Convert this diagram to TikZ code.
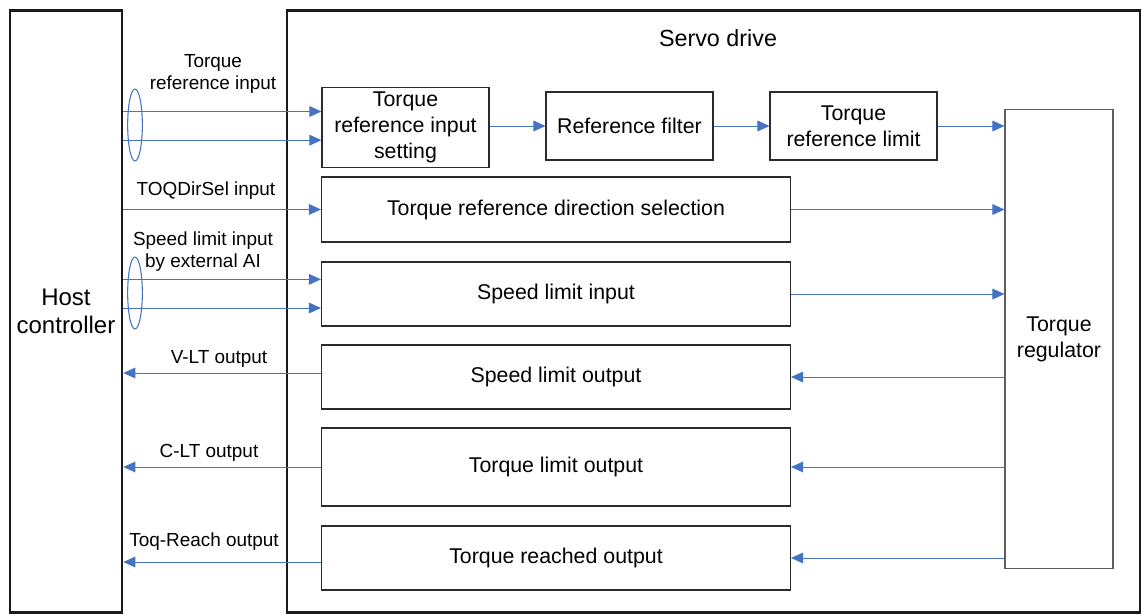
\documentclass[tikz,border=0pt]{standalone}
\usepackage{fontspec}
\setmainfont{Liberation Sans}
\usetikzlibrary{arrows.meta,positioning,calc,shapes.geometric}
\definecolor{Blue}{HTML}{4472C4}
\definecolor{Ink}{HTML}{1A1A1A}
\definecolor{Edge}{HTML}{2B2B2B}
\definecolor{Gray}{HTML}{5E5E5E}
\tikzset{
  unit/.style={draw=Ink,line width=2pt,inner sep=0pt,minimum height=451.5pt,align=center},
  blk/.style={draw=Edge,line width=.8pt,inner sep=0pt,align=center,font=\fontsize{16}{19.5}\selectfont},
  lbl/.style={align=center,inner sep=0pt,font=\fontsize{14.2}{16.5}\selectfont},
  grp/.style={draw=Blue,ellipse,line width=.8pt,inner sep=0pt,minimum width=11pt,minimum height=54pt},
  sig/.style={-{Triangle[length=9pt,width=8pt]},draw=Blue,fill=Blue,line width=.75pt},
}

\begin{document}
\begin{tikzpicture}[x=0.75pt,y=-0.75pt]
    \useasboundingbox (0,0) rectangle (1142,614);

    % outer units
    \node[unit,minimum width=84pt,font=\fontsize{18}{21}\selectfont] (host) at (66,311.5) {Host\\controller};
    \node[unit,minimum width=639.75pt] (servo) at (713.5,311.5) {};
    \node[inner sep=0pt,font=\fontsize{17.5}{21}\selectfont] (servot) at (718,38) {Servo drive};

    % blocks of the servo drive
    \node[blk,minimum width=125.25pt,minimum height=60pt] (tris) at (405.5,127.5) {Torque\\reference input\\setting};
    \node[blk,minimum width=125.25pt,minimum height=51pt] (filt) at (629.5,126) {Reference filter};
    \node[blk,minimum width=125.25pt,minimum height=51pt] (tlim) at (853.5,126) {Torque\\reference limit};
    \node[blk,draw=Gray,minimum width=81pt,minimum height=344.25pt] (reg) at (1059,339) {Torque\\regulator};
    \node[blk,minimum width=351.75pt,minimum height=48.75pt] (dir) at (556,209.5) {Torque reference direction selection};
    \node[blk,minimum width=351.75pt,minimum height=48pt] (slin) at (556,294) {Speed limit input};
    \node[blk,minimum width=351.75pt,minimum height=48pt] (slout) at (556,377) {Speed limit output};
    \node[blk,minimum width=351.75pt,minimum height=58.5pt] (tlout) at (556,467) {Torque limit output};
    \node[blk,minimum width=351.75pt,minimum height=48pt] (trout) at (556,558) {Torque reached output};

    % signal labels
    \node[lbl] (ltq) at (213,74) {Torque\\reference input};
    \node[lbl] (ldir) at (206,191) {TOQDirSel input};
    \node[lbl] (lsp) at (203,252) {Speed limit input\\by external AI};
    \node[lbl] (lvlt) at (219,359) {V-LT output};
    \node[lbl] (lclt) at (209,453) {C-LT output};
    \node[lbl] (ltr) at (204,542) {Toq-Reach output};

    % inputs from host
    \draw[sig] ([yshift=12pt]tris.west -| host.east) -- ([yshift=12pt]tris.west);
    \draw[sig] ([yshift=-9.5pt]tris.west -| host.east) -- ([yshift=-9.5pt]tris.west);
    \node[grp] (gtq) at (135,125) {};
    \draw[sig] (dir.west -| host.east) -- (dir.west);
    \draw[sig] ([yshift=11pt]slin.west -| host.east) -- ([yshift=11pt]slin.west);
    \draw[sig] ([yshift=-10.5pt]slin.west -| host.east) -- ([yshift=-10.5pt]slin.west);
    \node[grp] (gsp) at (135,293) {};

    % chain to regulator
    \draw[sig] (tris.east |- filt.west) -- (filt.west);
    \draw[sig] (filt.east) -- (tlim.west);
    \draw[sig] (tlim.east) -- (tlim.east -| reg.west);
    \draw[sig] (dir.east) -- (dir.east -| reg.west);
    \draw[sig] (slin.east) -- (slin.east -| reg.west);

    % outputs
    \draw[sig] (slout.east -| reg.west) -- (slout.east);
    \draw[sig] (tlout.east -| reg.west) -- (tlout.east);
    \draw[sig] (trout.east -| reg.west) -- (trout.east);
    \draw[sig] ([yshift=3pt]slout.west) -- ([yshift=3pt]slout.west -| host.east);
    \draw[sig] (tlout.west) -- (tlout.west -| host.east);
    \draw[sig] ([yshift=-3pt]trout.west) -- ([yshift=-3pt]trout.west -| host.east);
\end{tikzpicture}
\end{document}
